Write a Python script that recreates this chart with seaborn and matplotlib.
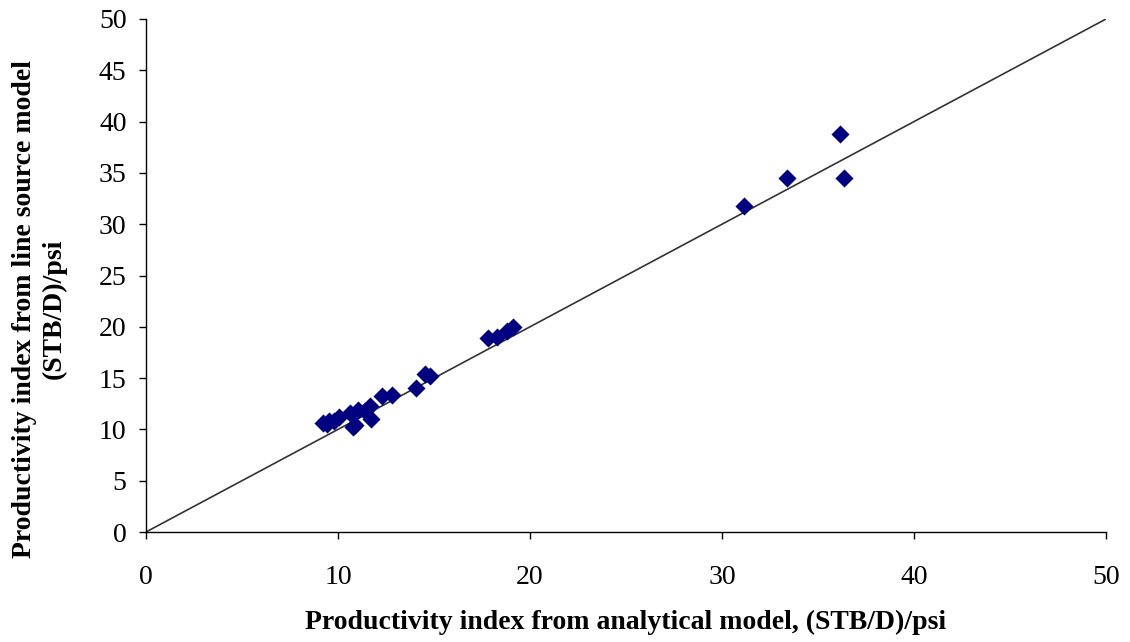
import matplotlib
matplotlib.use("Agg")
import matplotlib.pyplot as plt
import seaborn as sns
import pandas as pd

analytical = [36.15, 33.4, 36.35, 31.15, 14.55, 14.8, 14.08, 12.8, 12.3, 11.65, 11.7,
              11.06, 10.76, 10.6, 10.07, 9.55, 9.23, 9.45, 9.8, 10.9, 11.4,
              17.8, 18.3, 18.8, 19.1]
line_source = [38.8, 34.5, 34.5, 31.8, 15.4, 15.2, 14.0, 13.35, 13.25, 12.3, 11.0,
               11.9, 10.26, 11.6, 11.24, 10.85, 10.65, 10.5, 10.8, 10.4, 11.8,
               18.9, 19.0, 19.6, 20.0]
ref_line = [0, 50]

sns.set_theme(style="ticks")
plt.rcParams['font.family'] = ['Liberation Serif', 'DejaVu Serif']
plt.rcParams['text.color'] = 'black'
plt.rcParams['axes.labelcolor'] = 'black'

fig = plt.figure(figsize=(11.3, 6.42), dpi=100)
ax = fig.add_axes([146/1130, 1-532/642, 960/1130, 513/642])

df = pd.DataFrame({"x": analytical, "y": line_source})
sns.lineplot(x=ref_line, y=ref_line, ax=ax, color="#333333", linewidth=1.2)
sns.scatterplot(data=df, x="x", y="y", ax=ax, marker="D", s=85, color="#000080",
                edgecolor="#000080", linewidth=0, zorder=3)

ax.set_xlim(0, 50)
ax.set_ylim(0, 50)
ax.set_xticks([0, 10, 20, 30, 40, 50])
ax.set_yticks(list(range(0, 51, 5)))
for s in ["top", "right"]:
    ax.spines[s].set_visible(False)
for s in ["left", "bottom"]:
    ax.spines[s].set_color("black")
    ax.spines[s].set_linewidth(1)
ax.tick_params(axis="both", direction="out", length=5, width=1, colors="black",
               labelcolor="black", labelsize=20)
ax.tick_params(axis="x", pad=19)
ax.tick_params(axis="y", pad=9)

ax.set_xlabel("Productivity index from analytical model, (STB/D)/psi",
              fontsize=20, fontweight="bold", labelpad=14, color="black")
ax.set_ylabel("Productivity index from line source model\n(STB/D)/psi",
              fontsize=20, fontweight="bold", color="black")
ax.yaxis.set_label_coords(-0.083, 0.435)

fig.savefig("out.png", dpi=100)
